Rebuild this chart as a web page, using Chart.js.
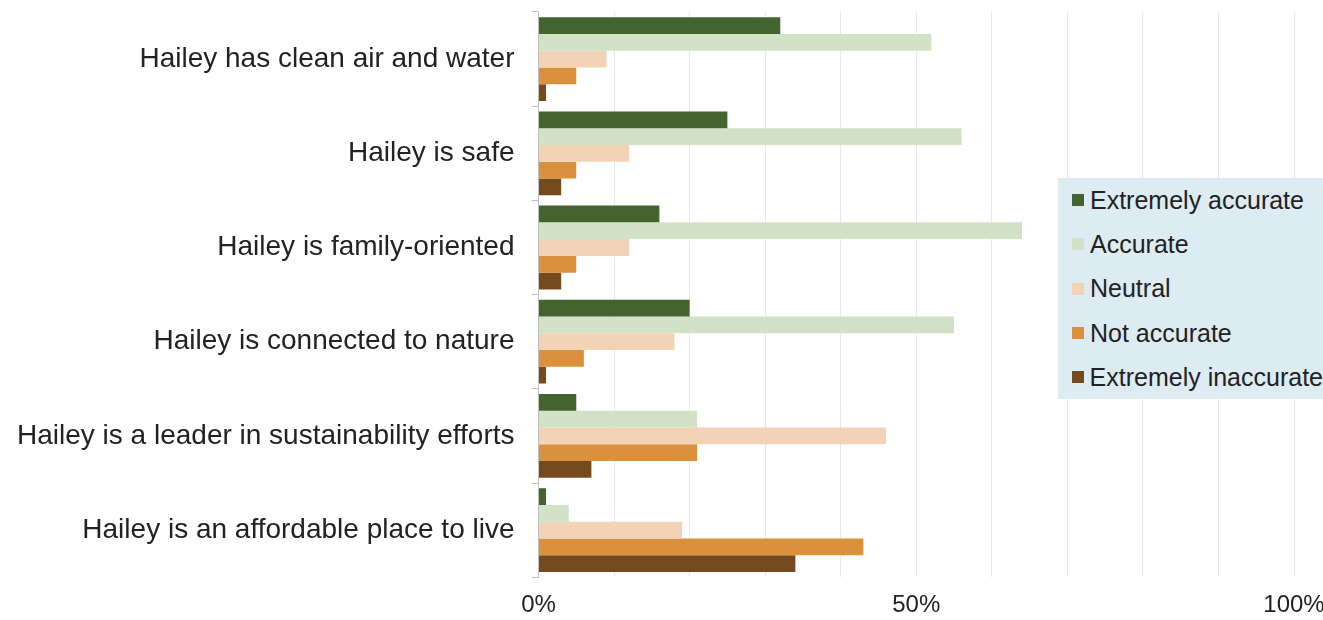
<!DOCTYPE html>
<html lang="en">
<head>
<meta charset="UTF-8">
<title>Hailey perceptions</title>
<script src="https://cdn.jsdelivr.net/npm/chart.js"></script>
<style>
    body {
        margin: 0;
        background: #fff;
        font-family: 'Liberation Sans', Arial, sans-serif;
    }
    .wrap {
        position: relative;
        width: 1323px;
        height: 620px;
    }
    #legend {
        position: absolute;
        left: 1058px;
        top: 178px;
        width: 265px;
        height: 221px;
        background: #ddebf3;
        box-sizing: border-box;
        padding-top: 0;
        overflow: hidden;
    }
    .legend-item {
        display: flex;
        align-items: center;
        height: 44.3px;
        font-size: 25px;
        color: #222;
        white-space: nowrap;
    }
    .swatch {
        width: 12px;
        height: 12px;
        margin-left: 14px;
        margin-right: 6px;
    }
</style>
</head>
<body>
<div class="wrap">
    <canvas id="chart" width="1323" height="620"></canvas>
    <div id="legend"></div>
</div>
<script>
    const categories = [
        "Hailey has clean air and water",
        "Hailey is safe",
        "Hailey is family-oriented",
        "Hailey is connected to nature",
        "Hailey is a leader in sustainability efforts",
        "Hailey is an affordable place to live"
    ];
    const seriesNames = ["Extremely accurate", "Accurate", "Neutral", "Not accurate", "Extremely inaccurate"];
    const seriesColors = ["#43632f", "#d2e2c6", "#f2d3b6", "#db913c", "#744a1e"];

    const extremelyAccurate = [32, 25, 16, 20, 5, 1];
    const accurate = [52, 56, 64, 55, 21, 4];
    const neutral = [9, 12, 12, 18, 46, 19];
    const notAccurate = [5, 5, 5, 6, 21, 43];
    const extremelyInaccurate = [1, 3, 3, 1, 7, 34];

    const seriesValues = [extremelyAccurate, accurate, neutral, notAccurate, extremelyInaccurate];

    const datasets = seriesNames.map((name, i) => ({
        label: name,
        data: seriesValues[i],
        backgroundColor: seriesColors[i],
        borderWidth: 0,
        categoryPercentage: 0.89,
        barPercentage: 1.0
    }));

    // legend drawn as html so it can sit over the plot like the original
    const legendEl = document.getElementById("legend");
    seriesNames.forEach((name, i) => {
        const row = document.createElement("div");
        row.className = "legend-item";
        row.innerHTML = '<span class="swatch" style="background:' + seriesColors[i] + '"></span>' + name;
        legendEl.appendChild(row);
    });

    new Chart(document.getElementById("chart"), {
        type: "bar",
        data: { labels: categories, datasets: datasets },
        options: {
            indexAxis: "y",
            responsive: false,
            animation: false,
            layout: { padding: { top: 12, right: 0, bottom: -14, left: 0 } },
            plugins: {
                legend: { display: false },
                tooltip: { enabled: false }
            },
            scales: {
                x: {
                    min: 0,
                    max: 100,
                    afterFit: s => { s.paddingRight = 29; },
                    ticks: {
                        stepSize: 10,
                        autoSkip: false,
                        maxRotation: 0,
                        padding: 14,
                        color: "#222",
                        font: { family: "'Liberation Sans', Arial, sans-serif", size: 24 },
                        callback: v => (v % 50 === 0 ? v + "%" : "")
                    },
                    grid: { color: "#e8e8e8", drawTicks: false },
                    border: { display: false }
                },
                y: {
                    // labels sit mid-category, so no extra room above/below needed
                    afterFit: s => { s.paddingTop = 0; s.paddingBottom = 0; },
                    ticks: {
                        padding: 17,
                        color: "#222",
                        font: { family: "'Liberation Sans', Arial, sans-serif", size: 28 }
                    },
                    grid: {
                        drawOnChartArea: false,
                        tickLength: 7,
                        color: "#bfbfbf"
                    },
                    border: { display: true, color: "#bfbfbf" }
                }
            }
        }
    });
</script>
</body>
</html>
